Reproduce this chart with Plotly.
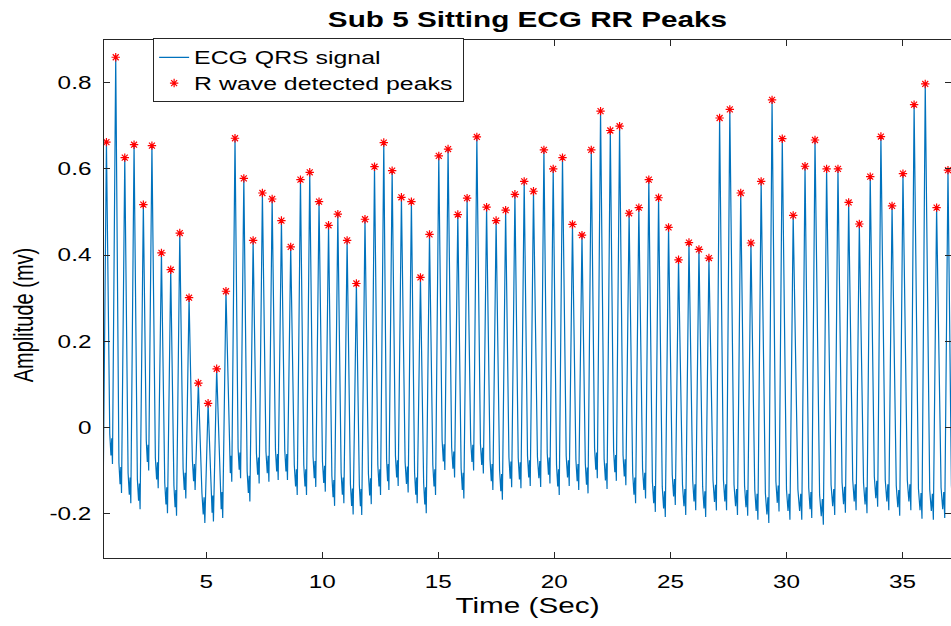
import plotly.graph_objects as go

# ---- data ----
peak_time = [0.70, 1.10, 1.49, 1.89, 2.29, 2.66, 3.07, 3.47, 3.86, 4.26,
             4.66, 5.08, 5.45, 5.85, 6.24, 6.62, 7.02, 7.42, 7.84, 8.24,
             8.64, 9.06, 9.46, 9.86, 10.27, 10.67, 11.07, 11.47, 11.84, 12.25,
             12.65, 13.01, 13.41, 13.84, 14.23, 14.62, 15.02, 15.42, 15.84, 16.24,
             16.66, 17.08, 17.49, 17.90, 18.30, 18.70, 19.10, 19.55, 19.95, 20.35,
             20.78, 21.19, 21.59, 21.99, 22.41, 22.81, 23.22, 23.64, 24.07, 24.49,
             24.92, 25.35, 25.80, 26.23, 26.66, 27.12, 27.56, 28.03, 28.47, 28.91,
             29.38, 29.82, 30.29, 30.80, 31.23, 31.73, 32.22, 32.68, 33.14, 33.61,
             34.07, 34.55, 35.02, 35.50, 35.98, 36.47, 36.96]

peak_amp = [0.662, 0.859, 0.626, 0.656, 0.517, 0.654, 0.405, 0.366, 0.451, 0.301,
            0.103, 0.056, 0.136, 0.316, 0.671, 0.578, 0.434, 0.544, 0.530, 0.480,
            0.419, 0.575, 0.592, 0.524, 0.469, 0.495, 0.434, 0.334, 0.483, 0.605,
            0.661, 0.596, 0.534, 0.524, 0.348, 0.448, 0.630, 0.646, 0.494, 0.532,
            0.674, 0.511, 0.480, 0.504, 0.541, 0.571, 0.548, 0.644, 0.600, 0.626,
            0.471, 0.446, 0.644, 0.734, 0.689, 0.699, 0.497, 0.510, 0.575, 0.533,
            0.464, 0.389, 0.429, 0.413, 0.393, 0.718, 0.738, 0.544, 0.428, 0.571,
            0.760, 0.670, 0.492, 0.606, 0.667, 0.600, 0.600, 0.522, 0.472, 0.582,
            0.675, 0.514, 0.589, 0.749, 0.797, 0.510, 0.597]

# minimum of the signal just before each R peak
trough_amp = [-0.145, -0.085, -0.152, -0.176, -0.190, -0.100, -0.141, -0.199, -0.205, -0.165,
              -0.145, -0.222, -0.218, -0.210, -0.126, -0.118, -0.172, -0.130, -0.126, -0.122,
              -0.122, -0.157, -0.157, -0.138, -0.149, -0.182, -0.176, -0.202, -0.203, -0.178,
              -0.157, -0.145, -0.136, -0.151, -0.176, -0.199, -0.157, -0.099, -0.116, -0.165,
              -0.100, -0.107, -0.145, -0.168, -0.139, -0.141, -0.136, -0.138, -0.130, -0.157,
              -0.136, -0.145, -0.153, -0.118, -0.143, -0.124, -0.134, -0.176, -0.165, -0.196,
              -0.208, -0.180, -0.203, -0.192, -0.208, -0.193, -0.192, -0.203, -0.205, -0.214,
              -0.222, -0.195, -0.214, -0.214, -0.210, -0.226, -0.203, -0.198, -0.192, -0.199,
              -0.184, -0.192, -0.205, -0.192, -0.212, -0.214, -0.210]
end_amp = -0.205

# beat waveform
rise_time = 0.14                                   # trough -> R peak [s]
fall_shape = [(0.55, 0.07), (0.75, 0.02), (0.88, 0.06)]  # (fraction of gap to next trough, level above it)

x_tick_vals = [5, 10, 15, 20, 25, 30, 35]
x_tick_text = ["5", "10", "15", "20", "25", "30", "35"]
y_tick_vals = [-0.2, 0, 0.2, 0.4, 0.6, 0.8]
y_tick_text = ["-0.2", "0", "0.2", "0.4", "0.6", "0.8"]

# ---- assemble the ECG line from the read values ----
sig_t, sig_v = [], []
n = len(peak_time)
for i in range(n):
    tp, pv = peak_time[i], peak_amp[i]
    sig_t += [tp - rise_time, tp]
    sig_v += [trough_amp[i], pv]
    if i + 1 < n:
        nxt_t, nxt_v = peak_time[i + 1] - rise_time, trough_amp[i + 1]
    else:
        nxt_t, nxt_v = tp + 0.27, end_amp
    gap = nxt_t - tp
    for frac, lvl in fall_shape:
        sig_t.append(tp + frac * gap)
        sig_v.append(nxt_v + lvl)
    if i + 1 == n:
        sig_t.append(nxt_t)
        sig_v.append(nxt_v)

FONT = "Liberation Sans, Arial, Helvetica, sans-serif"
AX = "#262626"

fig = go.Figure()
fig.add_trace(go.Scatter(x=sig_t, y=sig_v, mode="lines", name="ECG QRS signal",
                         line=dict(color="#0072BD", width=1.2)))
fig.add_trace(go.Scatter(x=peak_time, y=peak_amp, mode="markers",
                         name="R wave detected peaks",
                         marker=dict(symbol="asterisk-open", size=7, color="red",
                                     line=dict(color="red", width=1.2))))

axis_common = dict(showgrid=False, zeroline=False, showline=True, linecolor=AX,
                   linewidth=1, mirror="allticks", ticks="inside", ticklen=6,
                   tickcolor=AX, tickwidth=1, automargin=False,
                   tickfont=dict(family=FONT, size=18, color="black"))

W, H = 951, 626
fig.update_layout(
    width=W, height=H,
    margin=dict(l=104, r=0, t=40, b=68, autoexpand=False),
    paper_bgcolor="white", plot_bgcolor="white",
    title=dict(text="Sub 5 Sitting ECG RR Peaks", x=0.5, xref="paper",
               y=1 - 19 / H, yref="container", yanchor="middle", xanchor="center",
               font=dict(family=FONT, size=22, color="black", weight="bold")),
    xaxis=dict(range=[0.595, 37.09], tickvals=x_tick_vals, ticktext=x_tick_text,
               title=dict(text="Time (Sec)", standoff=7,
                          font=dict(family=FONT, size=22, color="black")),
               ticklabelstandoff=7, **axis_common),
    yaxis=dict(range=[-0.303, 0.899], tickvals=y_tick_vals, ticktext=y_tick_text,
               title=dict(text="Amplitude (mv)", standoff=23,
                          font=dict(family=FONT, size=20, color="black")),
               ticklabelstandoff=8, **axis_common),
    legend=dict(x=0.058, y=1.003, xanchor="left", yanchor="top",
                bgcolor="white", bordercolor=AX, borderwidth=1,
                font=dict(family=FONT, size=17.5, color="black"),
                itemwidth=30, tracegroupgap=0),
    showlegend=True,
)

# The reference image is horizontally stretched (~1.35x): widen every text the same way,
# and remove the default 8px page margin so the figure fills the 951x626 window.
post = """
document.body.style.margin='0px';
(function(){
  var gd = document.getElementById('{plot_id}');
  function stretch(sel, mode, S, dy){
    gd.querySelectorAll(sel).forEach(function(t){
      var r = t.getBoundingClientRect();
      var ax = mode==='left' ? r.left : (mode==='right' ? r.right : (r.left + r.right)/2);
      var m = t.parentNode.getScreenCTM();
      var px = (ax - m.e)/m.a;
      var old = t.getAttribute('transform') || '';
      t.setAttribute('transform', 'matrix(' + S + ',0,0,1,' + (px*(1-S)) + ',' + (dy||0) + ') ' + old);
    });
  }
  stretch('text.gtitle', 'center', 1.35, 0);
  stretch('g.xtick text', 'center', 1.35, 0);
  stretch('g.ytick text', 'right', 1.35, 0);
  stretch('text.xtitle', 'center', 1.35, 0);
  stretch('text.ytitle', 'center', 1.35, 16);
  stretch('text.legendtext', 'left', 1.42, 0);
  // widen the legend box (and its clip area) to hold the wider text
  var bg = gd.querySelector('g.legend rect.bg');
  if (bg){
    var right = 0;
    gd.querySelectorAll('text.legendtext').forEach(function(t){
      right = Math.max(right, t.getBoundingClientRect().right);
    });
    var br = bg.getBoundingClientRect();
    var w = right + 11 - br.left;
    bg.setAttribute('width', w);
    document.querySelectorAll('clipPath').forEach(function(c){
      if ((c.id || '').indexOf('legend') >= 0){
        c.querySelectorAll('rect').forEach(function(rr){ rr.setAttribute('width', w); });
      }
    });
  }
})();
"""
fig.write_html("out.html", post_script=post, config={"displayModeBar": False})
